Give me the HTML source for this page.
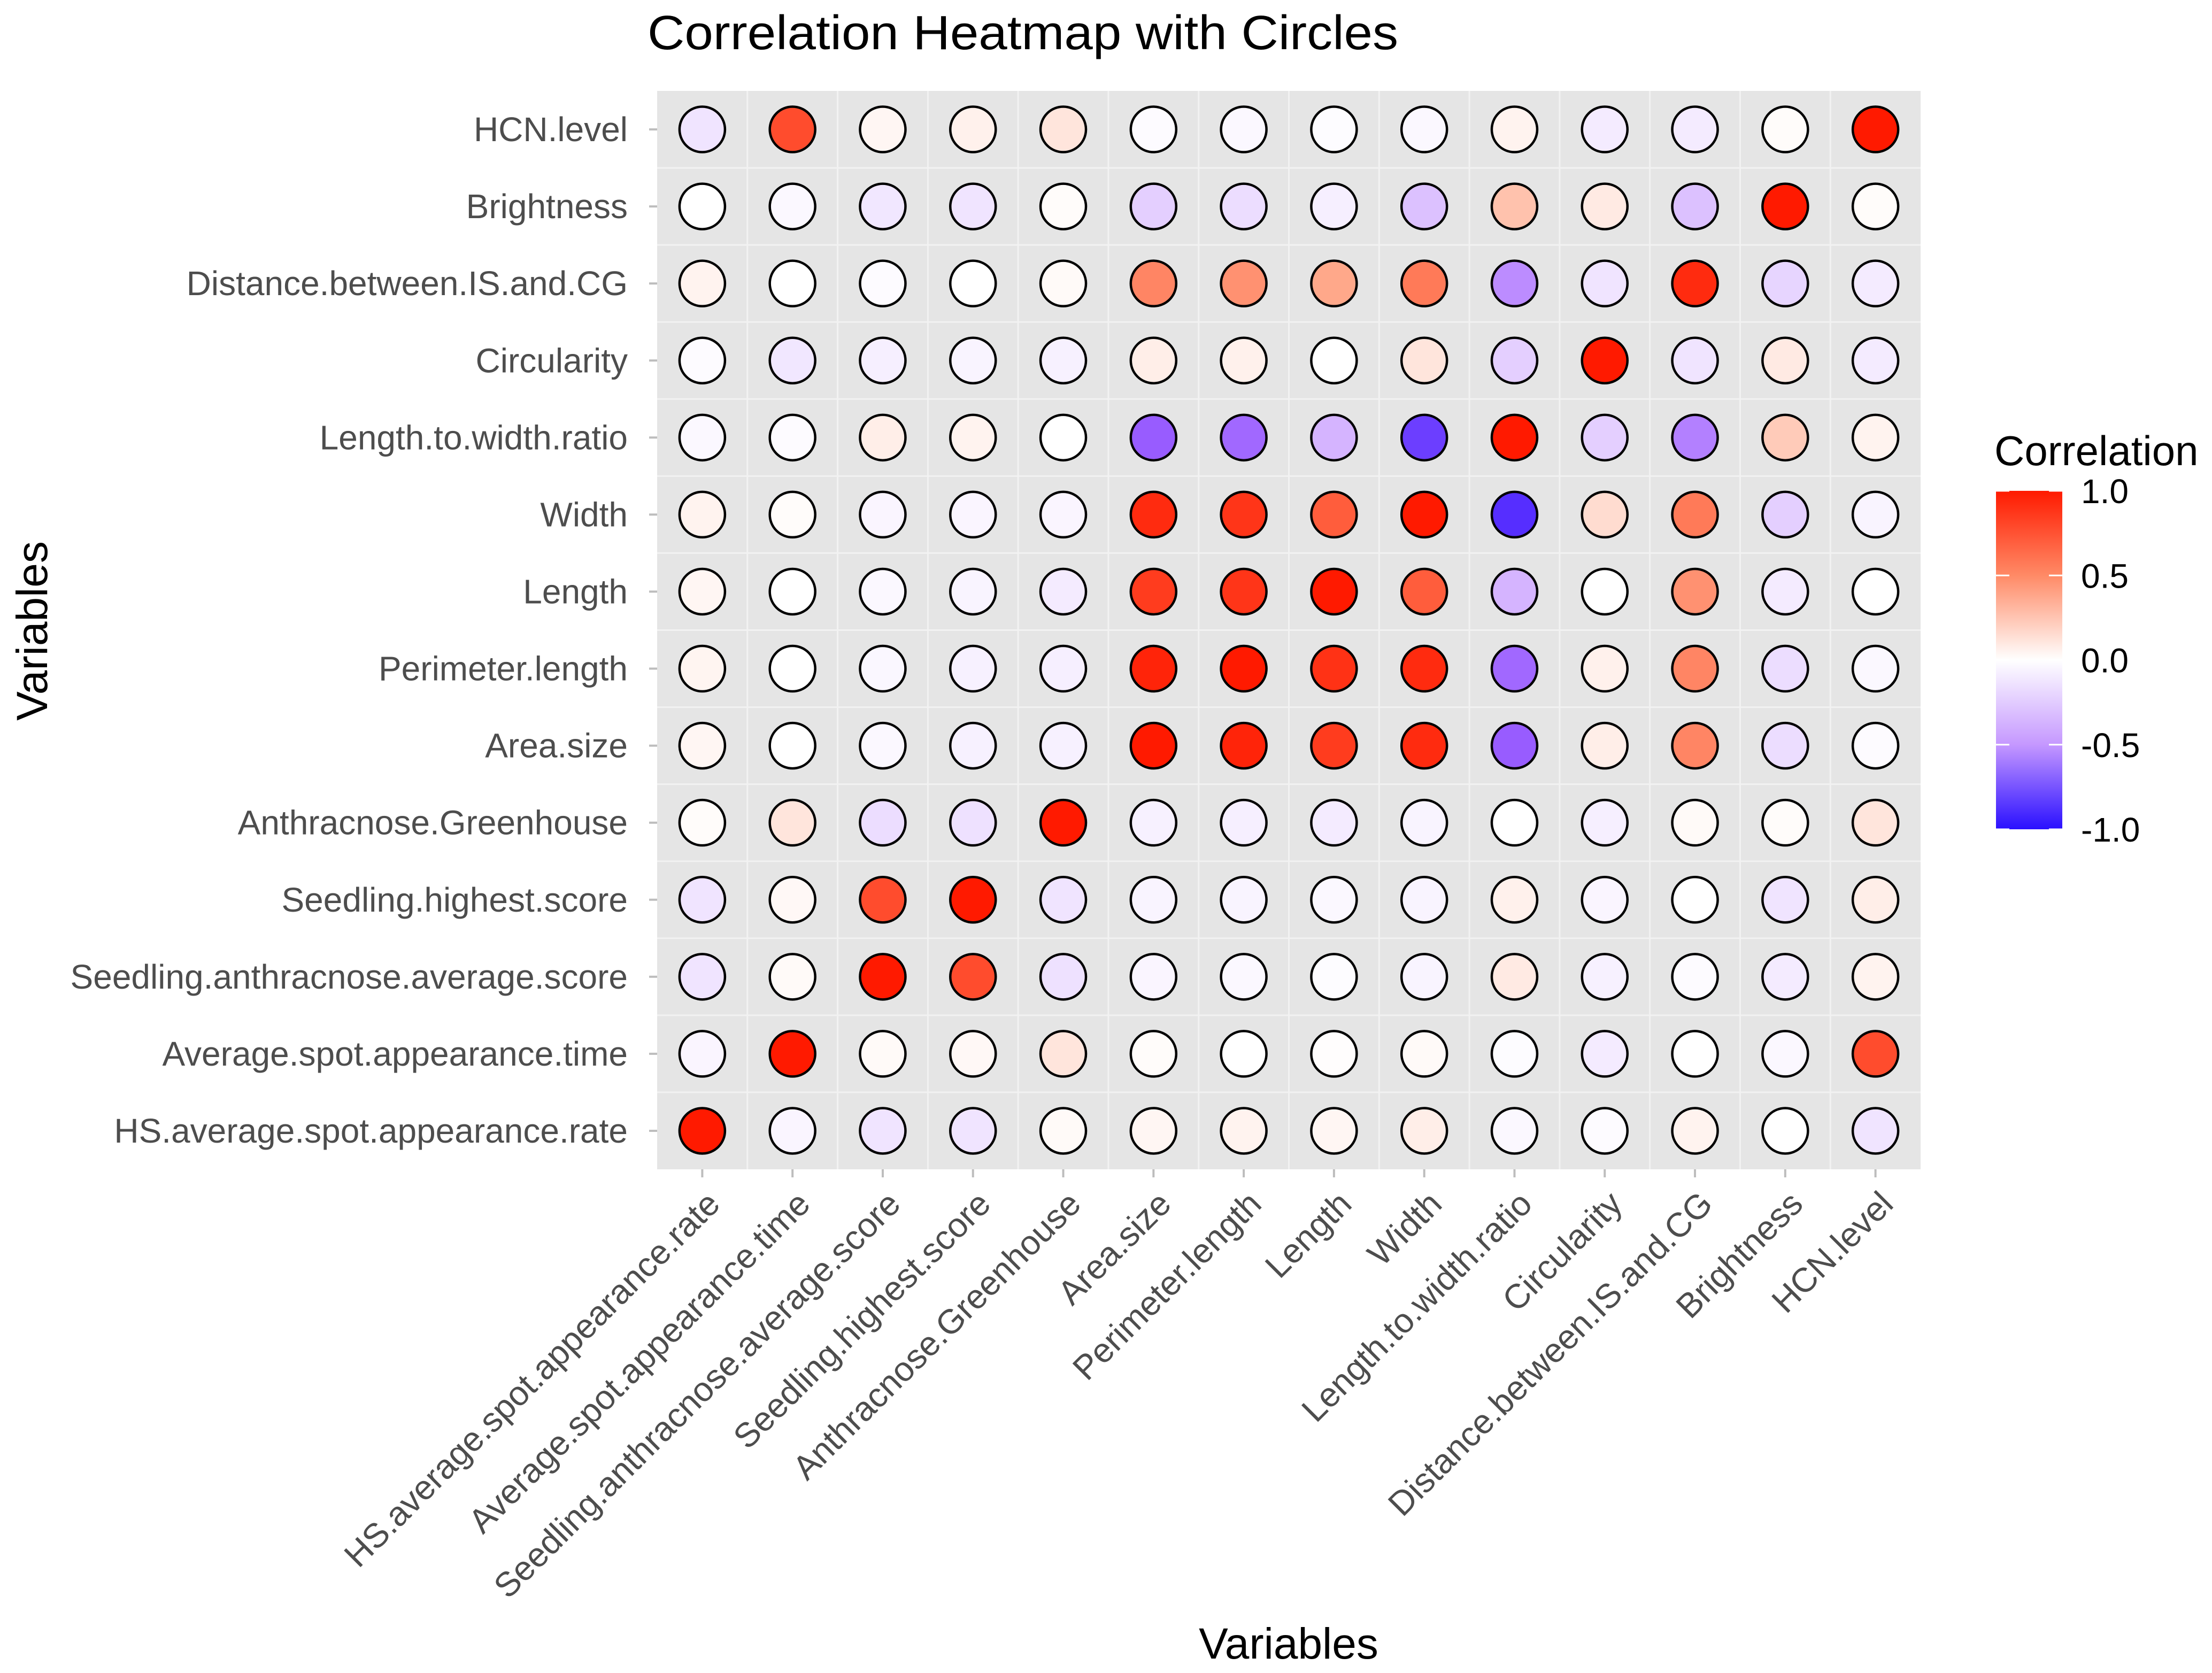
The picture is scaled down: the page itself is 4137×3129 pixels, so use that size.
<!DOCTYPE html>
<html><head><meta charset="utf-8"><style>
html,body{margin:0;padding:0;background:#fff}
svg{display:block}
text{font-family:"Liberation Sans",Arial,sans-serif}
</style></head><body>
<svg id="chart" width="4137" height="3129" viewBox="0 0 4137 3129" xmlns="http://www.w3.org/2000/svg">
<defs>
<linearGradient id="lg" x1="0" y1="0" x2="0" y2="1">
<stop offset="0" stop-color="#ff1a00"/><stop offset="0.25" stop-color="#ff8a66"/><stop offset="0.5" stop-color="#ffffff"/><stop offset="0.75" stop-color="#c598ff"/><stop offset="1" stop-color="#2a10ff"/>
</linearGradient>
</defs>
<text x="1211" y="92" font-size="90" textLength="1404" lengthAdjust="spacingAndGlyphs" fill="#000">Correlation Heatmap with Circles</text>
<rect x="1229" y="170" width="2363" height="2017" fill="#e5e5e5"/>
<g id="grid"></g><g id="marks"></g><g id="ylab"></g><g id="xlab"></g>
<text transform="translate(88,1180) rotate(-90)" text-anchor="middle" font-size="82" fill="#000">Variables</text>
<text x="2410" y="3102" text-anchor="middle" font-size="82" fill="#000">Variables</text>
<g>
<text x="3730" y="870" font-size="78" fill="#000">Correlation</text>
<rect x="3733" y="918" width="124" height="633" fill="url(#lg)"/>
<g id="legticks"></g>
</g>
</svg>
<script>
const varNames = ["HS.average.spot.appearance.rate","Average.spot.appearance.time","Seedling.anthracnose.average.score","Seedling.highest.score","Anthracnose.Greenhouse","Area.size","Perimeter.length","Length","Width","Length.to.width.ratio","Circularity","Distance.between.IS.and.CG","Brightness","HCN.level"];
// rows listed in variable order (bottom to top in the plot)
const rowHS   = [1,-0.07,-0.2,-0.2,0.03,0.05,0.07,0.05,0.1,-0.05,-0.03,0.07,0,-0.2];
const rowTime = [-0.07,1,0.03,0.04,0.15,0.02,0,0.01,0.03,-0.02,-0.15,0,-0.05,0.85];
const rowSAvg = [-0.2,0.03,1,0.85,-0.22,-0.07,-0.05,-0.02,-0.08,0.12,-0.1,-0.03,-0.15,0.07];
const rowSHi  = [-0.2,0.04,0.85,1,-0.2,-0.08,-0.08,-0.05,-0.08,0.08,-0.07,0,-0.2,0.1];
const rowGH   = [0.02,0.15,-0.25,-0.22,1,-0.1,-0.12,-0.15,-0.08,0,-0.12,0.03,0.02,0.15];
const rowArea = [0.05,0,-0.05,-0.1,-0.1,1,0.97,0.9,0.95,-0.75,0.1,0.65,-0.25,-0.03];
const rowPer  = [0.06,0,-0.06,-0.1,-0.12,0.97,1,0.93,0.95,-0.7,0.08,0.65,-0.25,-0.05];
const rowLen  = [0.05,0,-0.05,-0.08,-0.15,0.9,0.92,1,0.8,-0.4,0,0.6,-0.15,0];
const rowWid  = [0.07,0.02,-0.07,-0.07,-0.07,0.95,0.92,0.8,1,-0.9,0.2,0.7,-0.3,-0.08];
const rowLWR  = [-0.05,-0.03,0.1,0.07,0,-0.75,-0.7,-0.4,-0.85,1,-0.3,-0.6,0.3,0.07];
const rowCirc = [-0.03,-0.18,-0.12,-0.08,-0.1,0.1,0.08,0,0.15,-0.3,1,-0.2,0.12,-0.15];
const rowDist = [0.07,0,-0.03,0,0.03,0.65,0.6,0.5,0.7,-0.55,-0.2,0.95,-0.28,-0.15];
const rowBri  = [0,-0.05,-0.18,-0.2,0.02,-0.3,-0.25,-0.12,-0.35,0.35,0.12,-0.35,1,0.02];
const rowHCN  = [-0.2,0.85,0.05,0.08,0.15,-0.03,-0.05,-0.02,-0.05,0.07,-0.15,-0.15,0.02,1];
const legendTicks = [1.0,0.5,0.0,-0.5,-1.0];
const legendTickLabels = ["1.0","0.5","0.0","-0.5","-1.0"];

const matrix = [rowHS,rowTime,rowSAvg,rowSHi,rowGH,rowArea,rowPer,rowLen,rowWid,rowLWR,rowCirc,rowDist,rowBri,rowHCN];
const NS="http://www.w3.org/2000/svg";
const PX0=1229, PX1=3592, PY0=170, PY1=2187, n=varNames.length;
const cw=(PX1-PX0)/n, ch=(PY1-PY0)/n;
const xPos=i=>PX0+cw*(i+0.5);
const yPos=i=>PY1-ch*(i+0.5);
const legY=v=>918+(1-v)/2*633;
function lerp(a,b,t){return a.map((x,k)=>Math.round(x+(b[k]-x)*t));}
const posStops=[[0,[255,255,255]],[0.5,[255,168,138]],[0.75,[255,110,75]],[1,[255,26,0]]];
const negStops=[[0,[255,255,255]],[0.25,[236,221,255]],[0.5,[197,152,255]],[0.75,[152,92,255]],[1,[42,16,255]]];
function color(v){const s=v>=0?posStops:negStops;const a=Math.min(1,Math.abs(v));
 for(let k=1;k<s.length;k++){if(a<=s[k][0]){const t=(a-s[k-1][0])/(s[k][0]-s[k-1][0]);const c=lerp(s[k-1][1],s[k][1],t);return `rgb(${c[0]},${c[1]},${c[2]})`;}}
 const c=s[s.length-1][1];return `rgb(${c[0]},${c[1]},${c[2]})`;}
function el(tag,attrs,parent){const e=document.createElementNS(NS,tag);for(const k in attrs)e.setAttribute(k,attrs[k]);parent.appendChild(e);return e;}
const grid=document.getElementById('grid'),marks=document.getElementById('marks'),ylab=document.getElementById('ylab'),xlab=document.getElementById('xlab');
for(let i=1;i<n;i++){
 const l1=el('line',{x1:PX0+cw*i,x2:PX0+cw*i,y1:PY0,y2:PY1,stroke:'#f2f2f2','stroke-width':3},grid);
 
 
 const l2=el('line',{x1:PX0,x2:PX1,y1:PY0+ch*i,y2:PY0+ch*i,stroke:'#f2f2f2','stroke-width':3},grid);
 
 
}
for(let i=0;i<n;i++){
 const t1=el('line',{x1:PX0-15,x2:PX0,y1:yPos(i),y2:yPos(i),stroke:'#bdbdbd','stroke-width':4},ylab);
 
 
 const t2=el('line',{x1:xPos(i),x2:xPos(i),y1:PY1,y2:PY1+15,stroke:'#bdbdbd','stroke-width':4},xlab);
 
 
 const yl=el('text',{x:1174,y:yPos(i)+22,'text-anchor':'end','font-size':64,fill:'#4d4d4d'},ylab);
 yl.textContent=varNames[i];
 
 
 const xl=el('text',{transform:`translate(${xPos(i)+4},${PY1+36}) rotate(-45)`,x:0,y:46,'text-anchor':'end','font-size':64,fill:'#4d4d4d'},xlab);
 xl.textContent=varNames[i];
 
 
}
for(let r=0;r<n;r++){for(let c=0;c<n;c++){
 const v=matrix[r][c];
 const ci=el('circle',{cx:xPos(c),cy:yPos(r),r:42.5,fill:color(v),stroke:'#000','stroke-width':4.5},marks);
 
 
}}
const lt=document.getElementById('legticks');
legendTicks.forEach((v,i)=>{
 const a=el('line',{x1:3733,x2:3758,y1:legY(v),y2:legY(v),stroke:'#fff','stroke-width':3},lt);
 
 
 const b=el('line',{x1:3832,x2:3857,y1:legY(v),y2:legY(v),stroke:'#fff','stroke-width':3},lt);
 
 
 const t=el('text',{x:3892,y:legY(v)+23,'font-size':64,fill:'#000'},lt);
 t.textContent=legendTickLabels[i];
 
 
});
</script>
</body></html>
